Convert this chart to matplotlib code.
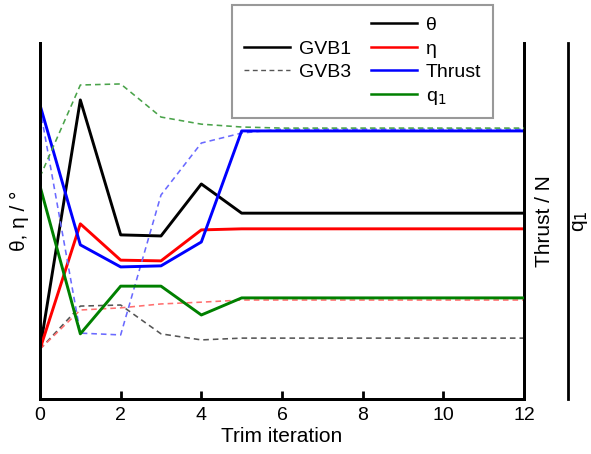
import matplotlib.pyplot as plt
from matplotlib.lines import Line2D

plt.rcParams['font.family'] = ['Liberation Sans', 'DejaVu Sans']

iterations = list(range(13))

# GVB1 (solid), normalised axis units 0..100
theta_gvb1 = [14.0, 84.0, 46.1, 45.8, 60.4, 52.2, 52.2, 52.2, 52.2, 52.2, 52.2, 52.2, 52.2]
eta_gvb1 = [14.0, 49.2, 39.0, 38.8, 47.5, 47.8, 47.8, 47.8, 47.8, 47.8, 47.8, 47.8, 47.8]
thrust_gvb1 = [82.6, 43.3, 37.1, 37.4, 44.1, 75.3, 75.3, 75.3, 75.3, 75.3, 75.3, 75.3, 75.3]
q1_gvb1 = [59.8, 18.3, 31.7, 31.7, 23.6, 28.4, 28.4, 28.4, 28.4, 28.4, 28.4, 28.4, 28.4]

# GVB3 (dashed)
theta_gvb3 = [14.0, 26.1, 26.4, 18.3, 16.6, 17.1, 17.1, 17.1, 17.1, 17.1, 17.1, 17.1, 17.1]
eta_gvb3 = [14.0, 25.0, 25.6, 26.7, 27.2, 27.8, 27.8, 27.8, 27.8, 27.8, 27.8, 27.8, 27.8]
thrust_gvb3 = [81.7, 18.5, 18.0, 57.3, 71.9, 74.7, 75.8, 75.8, 75.8, 75.8, 75.8, 75.8, 75.8]
q1_gvb3 = [62.4, 88.2, 88.5, 79.2, 77.2, 76.4, 76.1, 76.1, 76.1, 76.1, 76.1, 76.1, 76.1]

fig = plt.figure(figsize=(5.91, 4.54), dpi=100)
ax = fig.add_axes([40 / 591, 1 - 399 / 454, 484 / 591, 356 / 454])
ax_thrust = ax.twinx()
ax_q1 = ax.twinx()

for a in (ax, ax_thrust, ax_q1):
    a.set_ylim(0, 100)
    a.set_yticks([])
    a.spines['top'].set_visible(False)
    for s in a.spines.values():
        s.set_linewidth(2)

ax_q1.spines['right'].set_position(('axes', 528 / 484))

lw = 2.1
dash = dict(linestyle=(0, (3.5, 2.5)), linewidth=1.15)

ax.plot(iterations, theta_gvb3, color='#555555', **dash)
ax.plot(iterations, eta_gvb3, color='#ff7070', **dash)
ax_thrust.plot(iterations, thrust_gvb3, color='#6a6aff', **dash)
ax_q1.plot(iterations, q1_gvb3, color='#4aa34a', **dash)

ax.plot(iterations, theta_gvb1, color='black', linewidth=lw)
ax.plot(iterations, eta_gvb1, color='red', linewidth=lw)
ax_thrust.plot(iterations, thrust_gvb1, color='blue', linewidth=lw)
ax_q1.plot(iterations, q1_gvb1, color='green', linewidth=lw)

ax.set_xlim(0, 12)
ax.set_xticks(range(0, 13, 2))
ax.tick_params(axis='x', direction='in', length=6, width=2, labelsize=14, pad=6)
ax.set_xlabel('Trim iteration', fontsize=15, labelpad=2)
ax.set_ylabel('θ, η / °', fontsize=15, labelpad=8)
ax_thrust.set_ylabel('Thrust / N', fontsize=15, labelpad=8)
ax_q1.set_ylabel('q$_1$', fontsize=15, labelpad=2)

blank = Line2D([], [], linestyle='none')
handles = [blank,
           Line2D([], [], color='black', linewidth=1.8),
           Line2D([], [], color='#555555', linewidth=1.0, linestyle=(0, (3.5, 2.5))),
           blank,
           Line2D([], [], color='black', linewidth=1.8),
           Line2D([], [], color='red', linewidth=1.8),
           Line2D([], [], color='blue', linewidth=1.8),
           Line2D([], [], color='green', linewidth=1.8)]
labels = ['', 'GVB1', 'GVB3', '', 'θ', 'η', 'Thrust', 'q$_1$']
leg = fig.legend(handles, labels, ncol=2, loc='upper left',
                 bbox_to_anchor=(232 / 591, 1 - 5 / 454), fontsize=14,
                 frameon=True, fancybox=False, framealpha=1, edgecolor='#999999',
                 handlelength=2.4, handletextpad=0.45, labelspacing=0.3,
                 columnspacing=1.0, borderpad=0.6, borderaxespad=0)
leg.get_frame().set_linewidth(1.5)

fig.savefig('out.png', dpi=100)
